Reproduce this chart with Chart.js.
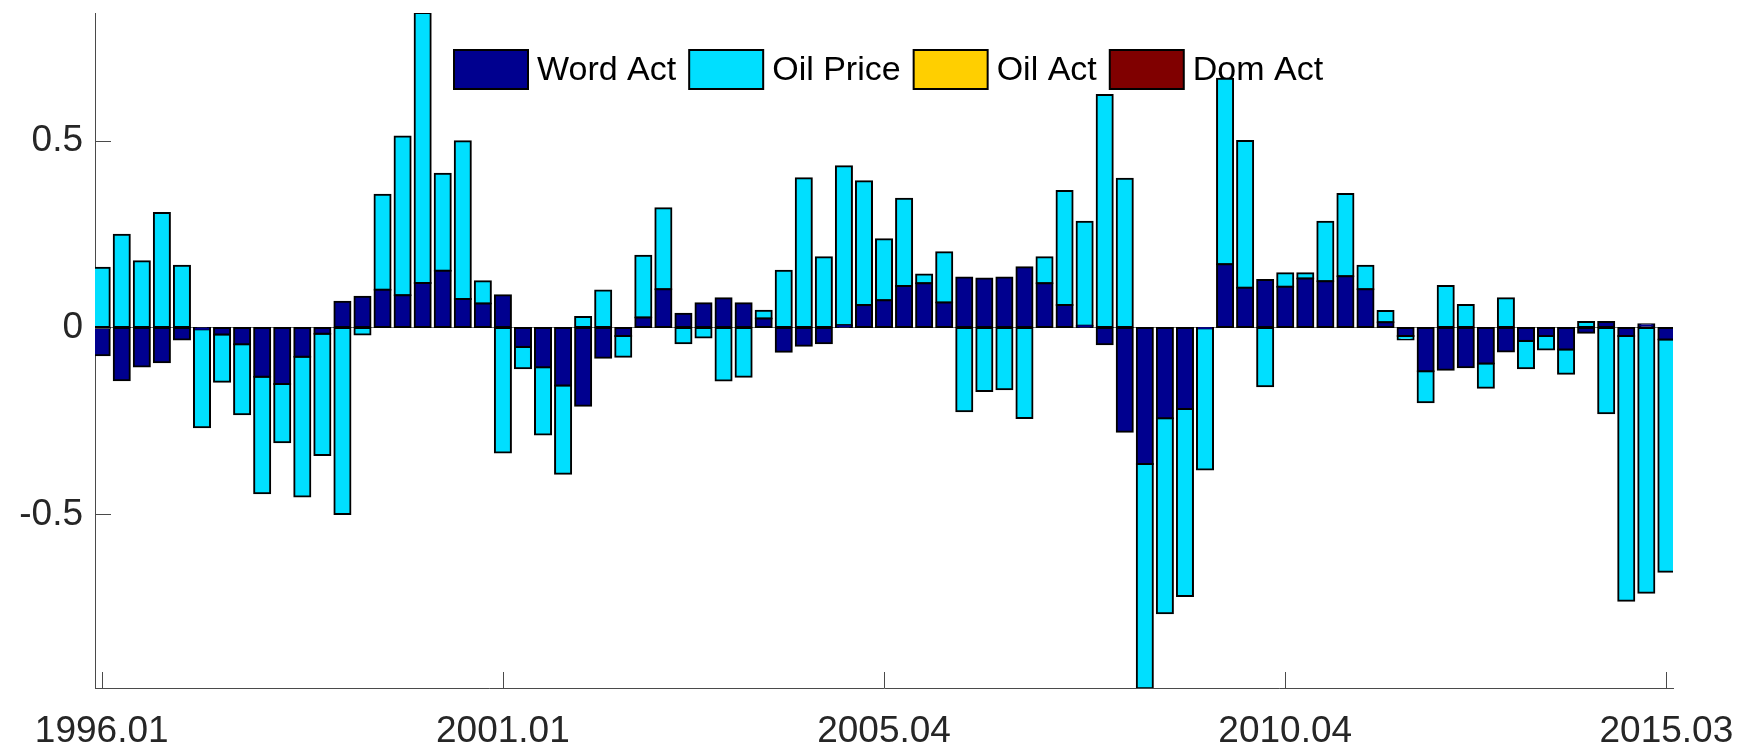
<!DOCTYPE html>
<html>
<head>
<meta charset="utf-8">
<script src="https://cdn.jsdelivr.net/npm/chart.js@4.4.1/dist/chart.umd.min.js"></script>
<style>
html,body{margin:0;padding:0;background:#fff;overflow:hidden;}
#wrap{width:1738px;height:747px;position:relative;}
</style>
</head>
<body>
<div id="wrap"><canvas id="c" width="1738" height="747"></canvas></div>
<script>
// ---- categories (quarters) ----
const periods = [
  '1996.01','1996.02','1996.03','1996.04','1997.01','1997.02','1997.03','1997.04',
  '1998.01','1998.02','1998.03','1998.04','1999.01','1999.02','1999.03','1999.04',
  '2000.01','2000.02','2000.03','2000.04','2001.01','2001.02','2001.03','2001.04',
  '2002.01','2002.02','2002.03','2002.04','2003.01','2003.02','2003.03','2003.04',
  '2004.01','2004.02','2004.03','2004.04','2005.01','2005.02','2005.03','2005.04',
  '2006.01','2006.02','2006.03','2006.04','2007.01','2007.02','2007.03','2007.04',
  '2008.01','2008.02','2008.03','2008.04','2009.01','2009.02','2009.03','2009.04',
  '2010.01','2010.02','2010.03','2010.04','2011.01','2011.02','2011.03','2011.04',
  '2012.01','2012.02','2012.03','2012.04','2013.01','2013.02','2013.03','2013.04',
  '2014.01','2014.02','2014.03','2014.04','2015.01','2015.02','2015.03'
];
// ---- tick labels ----
const xTickLabels = ['1996.01','2001.01','2005.04','2010.04','2015.03'];
const yTickValues = [-0.5, 0, 0.5];
const yTickText = ['-0.5','0','0.5'];
// ---- series ----
const seriesNames = ['Word Act','Oil Price','Oil Act','Dom Act'];
const wordAct = [
  -0.074,-0.141,-0.104,-0.093,-0.032,-0.005,-0.019,-0.045,-0.132,-0.151,
  -0.078,-0.017, 0.069, 0.082, 0.101, 0.086, 0.119, 0.152, 0.076, 0.064,
   0.086,-0.052,-0.106,-0.155,-0.209,-0.081,-0.023, 0.027, 0.102, 0.037,
   0.065, 0.078, 0.065, 0.024,-0.065,-0.049,-0.042, 0.006, 0.060, 0.073,
   0.111, 0.118, 0.067, 0.134, 0.131, 0.134, 0.161, 0.118, 0.060, 0.005,
  -0.045,-0.279,-0.365,-0.243,-0.218,-0.002, 0.169, 0.106, 0.127, 0.109,
   0.131, 0.124, 0.137, 0.102, 0.014,-0.023,-0.117,-0.113,-0.106,-0.096,
  -0.064,-0.036,-0.023,-0.059,-0.014, 0.015,-0.023, 0.009,-0.032
];
const oilPrice = [
   0.160, 0.248, 0.177, 0.306, 0.165,-0.262,-0.126,-0.187,-0.311,-0.156,
  -0.374,-0.324,-0.499,-0.019, 0.254, 0.425, 0.722, 0.259, 0.422, 0.060,
  -0.334,-0.057,-0.180,-0.236, 0.028, 0.099,-0.055, 0.165, 0.217,-0.042,
  -0.027,-0.142,-0.132, 0.021, 0.152, 0.399, 0.188, 0.425, 0.331, 0.163,
   0.233, 0.024, 0.134,-0.224,-0.170,-0.165,-0.242, 0.070, 0.305, 0.278,
   0.622, 0.398,-0.600,-0.521,-0.500,-0.378, 0.496, 0.393,-0.157, 0.036,
   0.014, 0.159, 0.220, 0.063, 0.030,-0.009,-0.083, 0.111, 0.060,-0.065,
   0.078,-0.073,-0.036,-0.065, 0.015,-0.229,-0.708,-0.709,-0.621
];
const oilAct = [
  0,0,0,0,0,0,0,0,0,0, 0,0,0,0,0,0,0,0,0,0, 0,0,0,0,0,0,0,0,0,0, 0,0,0,0,0,0,0,0,0,0,
  0,0,0,0,0,0,0,0,0,0, 0,0,0,0,0,0,0,0,0,0, 0,0,0,0,0,0,0,0,0,0, 0,0,0,0,0,0,0,0,0
];
const domAct = [
  0,0,0,0,0,0,0,0,0,0, 0,0,0,0,0,0,0,0,0,0, 0,0,0,0,0,0,0,0,0,0, 0,0,0,0,0,0,0,0,0,0,
  0,0,0,0,0,0,0,0,0,0, 0,0,0,0,0,0,0,0,0,0, 0,0,0,0,0,0,0,0,0,0, 0,0,0,0,0,0,0,0,0
];

const seriesColors = ['#00008f','#00dfff','#ffcf00','#800000'];
const FONT = "'Liberation Sans',Arial,Helvetica,sans-serif";
const TXT = '#262626';
const AXIS = '#4a4a4a';

const toPoints = arr => arr.map((v, i) => ({x: i, y: v}));
const datasets = [wordAct, oilPrice, oilAct, domAct].map((arr, k) => ({
  label: seriesNames[k],
  data: toPoints(arr),
  legendColor: seriesColors[k],
  backgroundColor: c => (c.raw && c.raw.y !== 0) ? seriesColors[k] : 'rgba(0,0,0,0)',
  borderColor: c => (c.raw && c.raw.y !== 0) ? '#000' : 'rgba(0,0,0,0)',
  borderWidth: 2,
  borderSkipped: false,
  inflateAmount: 1,
  barPercentage: 0.8,
  categoryPercentage: 1
}));

const insideLegend = {
  id: 'insideLegend',
  beforeDatasetsDraw(chart) {
    const ctx = chart.ctx;
    ctx.save();
    ctx.font = '34px ' + FONT;
    ctx.textBaseline = 'middle';
    ctx.textAlign = 'left';
    let x = 454;
    const top = 50, h = 39, w = 74;
    chart.data.datasets.forEach(ds => {
      ctx.fillStyle = ds.legendColor;
      ctx.fillRect(x, top, w, h);
      ctx.strokeStyle = '#000';
      ctx.lineWidth = 2;
      ctx.strokeRect(x, top, w, h);
      ctx.fillStyle = '#000';
      ctx.fillText(ds.label, x + w + 9, top + h / 2 + 1);
      x += w + 9 + ctx.measureText(ds.label).width + 13;
    });
    ctx.restore();
  }
};

const innerTicks = {
  id: 'innerTicks',
  afterDatasetsDraw(chart) {
    const {ctx, chartArea: a, scales: {x, y}} = chart;
    ctx.save();
    ctx.strokeStyle = AXIS;
    ctx.lineWidth = 1;
    ctx.beginPath();
    y.ticks.forEach(t => {
      const py = Math.round(y.getPixelForValue(t.value)) + 0.5;
      ctx.moveTo(a.left, py); ctx.lineTo(a.left + 16, py);
    });
    x.ticks.forEach(t => {
      const px = Math.round(x.getPixelForValue(t.value)) + 0.5;
      ctx.moveTo(px, a.bottom); ctx.lineTo(px, a.bottom - 16);
    });
    ctx.stroke();
    ctx.restore();
  }
};

const zeroPad = s => { s.paddingTop = 0; s.paddingBottom = 0; s.paddingLeft = 0; s.paddingRight = 0; };

new Chart(document.getElementById('c'), {
  type: 'bar',
  data: {datasets},
  plugins: [insideLegend, innerTicks],
  options: {
    responsive: false,
    devicePixelRatio: 1,
    animation: false,
    layout: {padding: {top: 13, right: 65, left: 0, bottom: 0}},
    plugins: {legend: {display: false}, tooltip: {enabled: false}},
    scales: {
      x: {
        type: 'linear',
        stacked: true,
        min: -0.334,
        max: 78.33,
        offset: false,
        grid: {display: false, drawTicks: false},
        border: {display: true, color: AXIS, width: 1},
        afterBuildTicks: s => { s.ticks = xTickLabels.map(l => ({value: periods.indexOf(l)})); },
        afterFit: s => { s.height = 59; zeroPad(s); },
        ticks: {
          autoSkip: false, maxRotation: 0, minRotation: 0,
          color: TXT, padding: 22,
          font: {family: FONT, size: 37},
          callback: v => periods[v]
        }
      },
      y: {
        stacked: true,
        min: -0.964,
        max: 0.841,
        grid: {
          drawTicks: false,
          color: c => (c.tick && c.tick.value === 0) ? '#777777' : 'rgba(0,0,0,0)',
          lineWidth: 1
        },
        border: {display: true, color: AXIS, width: 1},
        afterBuildTicks: s => { s.ticks = yTickValues.map(v => ({value: v})); },
        afterFit: s => { s.width = 95; zeroPad(s); },
        ticks: {
          color: TXT, padding: 12,
          font: {family: FONT, size: 37},
          callback: v => yTickText[yTickValues.indexOf(v)]
        }
      }
    }
  }
});
</script>
</body>
</html>
